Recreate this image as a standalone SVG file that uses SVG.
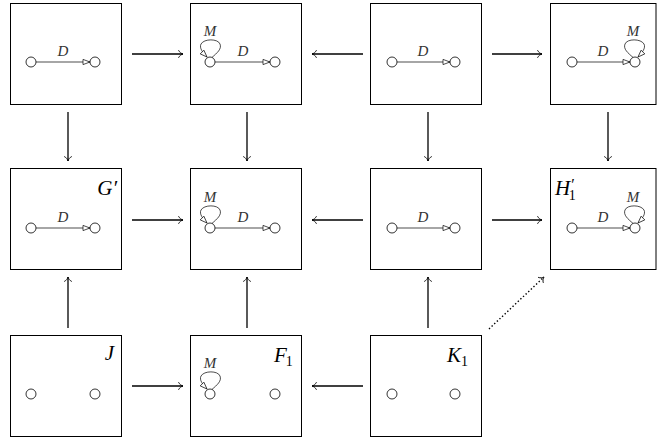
<svg xmlns="http://www.w3.org/2000/svg" width="657" height="438" viewBox="0 0 657 438">
<style>
.box{fill:#fff;stroke:#000;stroke-width:1}
.nd{fill:#fff;stroke:#000;stroke-width:0.8}
.ed{fill:none;stroke:#000;stroke-width:0.7;marker-end:url(#tri)}
.lp{fill:none;stroke:#000;stroke-width:0.7;marker-end:url(#tri)}
.ar{fill:none;stroke:#000;stroke-width:1.3;marker-end:url(#to)}
.dot{fill:none;stroke:#000;stroke-width:1.4;stroke-dasharray:1.4 2.2;marker-end:url(#to)}
</style>
<defs>
<marker id="tri" markerUnits="userSpaceOnUse" viewBox="-8 -4 9 8" markerWidth="9" markerHeight="8" refX="0" refY="0" orient="auto">
<path d="M0,0 L-7,-2.6 L-7,2.6 Z" fill="#fff" stroke="#000" stroke-width="0.7"/>
</marker>
<marker id="to" markerUnits="userSpaceOnUse" viewBox="-6 -5 7 10" markerWidth="7" markerHeight="10" refX="0" refY="0" orient="auto">
<path d="M-4.5,-3.8 C-3.5,-1.6 -1.5,-0.4 0,0 C-1.5,0.4 -3.5,1.6 -4.5,3.8" fill="none" stroke="#000" stroke-width="0.9"/>
</marker>
<path id="loop" d="M2,-4.6 C7,-9 12,-13 10,-18 C8,-23.5 -6,-23.5 -9,-18 C-11,-14 -7,-9 -3,-5"/>
</defs>

<g id="connectors">
<path class="ar" d="M132,54 H183"/>
<path class="ar" d="M363,54 H312"/>
<path class="ar" d="M492,54 H542"/>
<path class="ar" d="M132,220 H183"/>
<path class="ar" d="M363,220 H312"/>
<path class="ar" d="M492,220 H542"/>
<path class="ar" d="M132,386 H183"/>
<path class="ar" d="M363,386 H312"/>
<path class="ar" d="M68,112 V161"/>
<path class="ar" d="M247,112 V161"/>
<path class="ar" d="M428,112 V161"/>
<path class="ar" d="M608,112 V161"/>
<path class="ar" d="M68,328 V277"/>
<path class="ar" d="M247,328 V277"/>
<path class="ar" d="M428,328 V277"/>
<path class="dot" d="M489,329 L544,277"/>
</g>

<g font-family="Liberation Serif, DejaVu Serif, serif">
<g id="n11">
<rect class="box" x="10.5" y="3.5" width="111" height="101"/>
<path class="ed" d="M36,62 H90"/>
<circle class="nd" cx="31" cy="62" r="5"/>
<circle class="nd" cx="95" cy="62" r="5"/>
<text x="63" y="55.5" font-style="italic" font-size="15" fill="#333" text-anchor="middle">D</text>
</g>

<g id="n12">
<rect class="box" x="190.5" y="3.5" width="111" height="101"/>
<path class="ed" d="M215,62 H270"/>
<use href="#loop" class="lp" transform="translate(210,62)"/>
<circle class="nd" cx="210" cy="62" r="5"/>
<circle class="nd" cx="275" cy="62" r="5"/>
<text x="243" y="55.5" font-style="italic" font-size="15" fill="#333" text-anchor="middle">D</text>
<text x="210" y="36" font-style="italic" font-size="15" fill="#333" text-anchor="middle">M</text>
</g>

<g id="n13">
<rect class="box" x="370.5" y="3.5" width="111" height="101"/>
<path class="ed" d="M397,62 H450"/>
<circle class="nd" cx="392" cy="62" r="5"/>
<circle class="nd" cx="455" cy="62" r="5"/>
<text x="423" y="55.5" font-style="italic" font-size="15" fill="#333" text-anchor="middle">D</text>
</g>

<g id="n14">
<rect class="box" x="550.5" y="3.5" width="105.5" height="101"/>
<path class="ed" d="M577,62 H630"/>
<use href="#loop" class="lp" transform="translate(635,62) scale(-1,1)"/>
<circle class="nd" cx="572" cy="62" r="5"/>
<circle class="nd" cx="635" cy="62" r="5"/>
<text x="603" y="55.5" font-style="italic" font-size="15" fill="#333" text-anchor="middle">D</text>
<text x="633" y="36" font-style="italic" font-size="15" fill="#333" text-anchor="middle">M</text>
</g>

<g id="G1">
<rect class="box" x="10.5" y="168.5" width="111" height="101"/>
<path class="ed" d="M36,228 H90"/>
<circle class="nd" cx="31" cy="228" r="5"/>
<circle class="nd" cx="95" cy="228" r="5"/>
<text x="63" y="221.5" font-style="italic" font-size="15" fill="#333" text-anchor="middle">D</text>
<text x="117" y="195" font-style="italic" font-size="21" text-anchor="end">G′</text>
</g>

<g id="n22">
<rect class="box" x="190.5" y="168.5" width="111" height="101"/>
<path class="ed" d="M215,228 H270"/>
<use href="#loop" class="lp" transform="translate(210,228)"/>
<circle class="nd" cx="210" cy="228" r="5"/>
<circle class="nd" cx="275" cy="228" r="5"/>
<text x="243" y="221.5" font-style="italic" font-size="15" fill="#333" text-anchor="middle">D</text>
<text x="210" y="202" font-style="italic" font-size="15" fill="#333" text-anchor="middle">M</text>
</g>

<g id="n23">
<rect class="box" x="370.5" y="168.5" width="111" height="101"/>
<path class="ed" d="M397,228 H450"/>
<circle class="nd" cx="392" cy="228" r="5"/>
<circle class="nd" cx="455" cy="228" r="5"/>
<text x="423" y="221.5" font-style="italic" font-size="15" fill="#333" text-anchor="middle">D</text>
</g>

<g id="H1">
<rect class="box" x="550.5" y="168.5" width="105.5" height="101"/>
<path class="ed" d="M577,228 H630"/>
<use href="#loop" class="lp" transform="translate(635,228) scale(-1,1)"/>
<circle class="nd" cx="572" cy="228" r="5"/>
<circle class="nd" cx="635" cy="228" r="5"/>
<text x="603" y="221.5" font-style="italic" font-size="15" fill="#333" text-anchor="middle">D</text>
<text x="633" y="202" font-style="italic" font-size="15" fill="#333" text-anchor="middle">M</text>
<text x="555" y="195" font-style="italic" font-size="21">H<tspan font-size="16" dy="-5">′</tspan><tspan font-style="normal" font-size="14" dx="-5" dy="10">1</tspan></text>
</g>

<g id="J">
<rect class="box" x="10.5" y="335.5" width="111" height="101"/>
<circle class="nd" cx="31" cy="394" r="5"/>
<circle class="nd" cx="95" cy="394" r="5"/>
<text x="114" y="360" font-style="italic" font-size="21" text-anchor="end">J</text>
</g>

<g id="F1">
<rect class="box" x="190.5" y="335.5" width="111" height="101"/>
<use href="#loop" class="lp" transform="translate(210,394)"/>
<circle class="nd" cx="210" cy="394" r="5"/>
<circle class="nd" cx="275" cy="394" r="5"/>
<text x="210" y="368" font-style="italic" font-size="15" fill="#333" text-anchor="middle">M</text>
<text x="274" y="362" font-style="italic" font-size="21">F<tspan font-style="normal" font-size="14" dx="-1" dy="4">1</tspan></text>
</g>

<g id="K1">
<rect class="box" x="370.5" y="335.5" width="111" height="101"/>
<circle class="nd" cx="392" cy="394" r="5"/>
<circle class="nd" cx="455" cy="394" r="5"/>
<text x="447" y="362" font-style="italic" font-size="21">K<tspan font-style="normal" font-size="14" dx="0" dy="4">1</tspan></text>
</g>
</g>
</svg>
